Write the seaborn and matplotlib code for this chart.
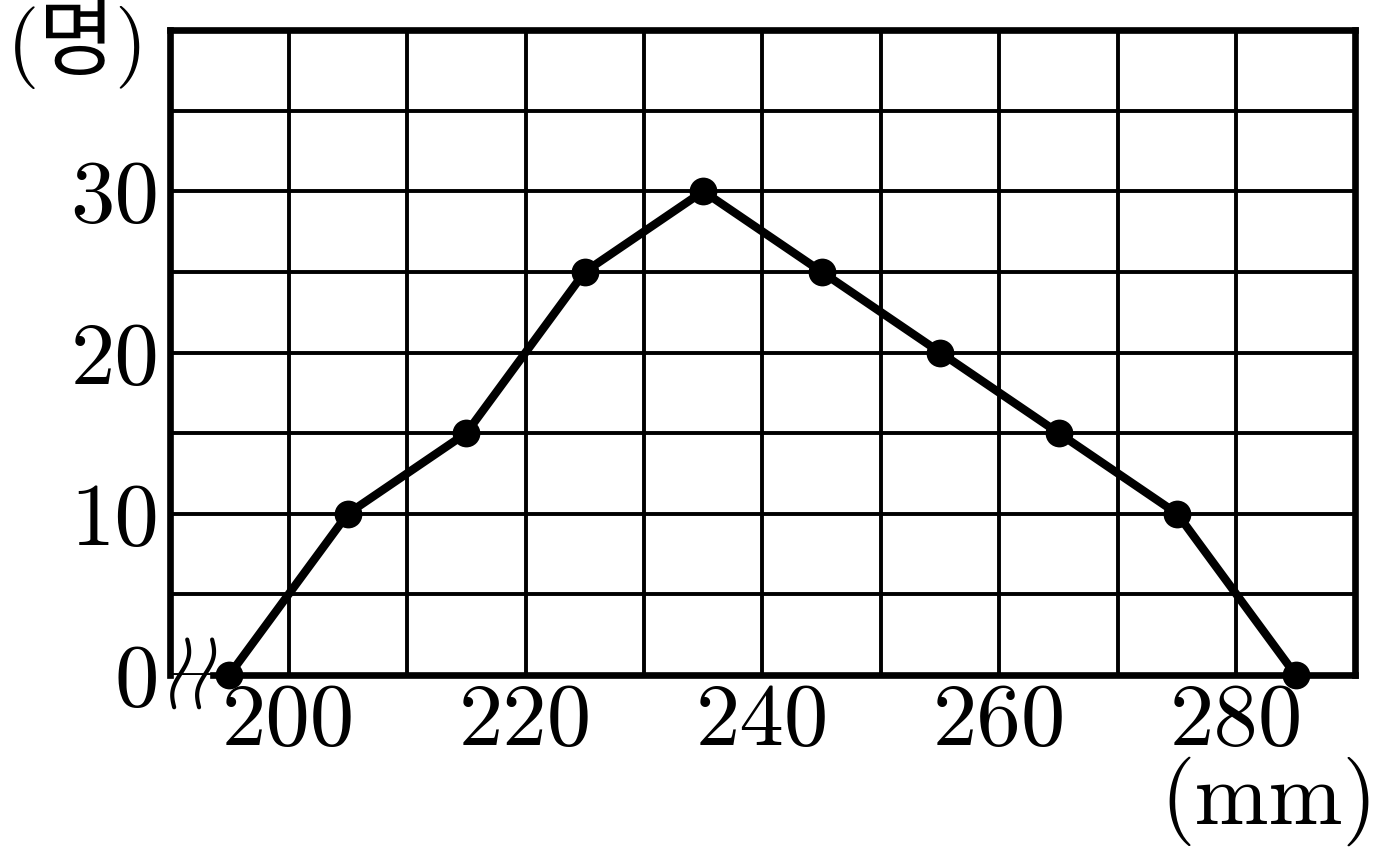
import matplotlib

matplotlib.use("Agg")

import numpy as np
import matplotlib.pyplot as plt
import seaborn as sns

# data
sizes = [195, 205, 215, 225, 235, 245, 255, 265, 275, 285]
counts = [0, 10, 15, 25, 30, 25, 20, 15, 10, 0]

x_ticks = [200, 210, 220, 230, 240, 250, 260, 270, 280]
x_labels = ['200', '', '220', '', '240', '', '260', '', '280']
y_ticks = [0, 5, 10, 15, 20, 25, 30, 35]
y_labels = ['0', '', '10', '', '20', '', '30', '']

sns.set_style("white")
plt.rcParams['font.family'] = ['cmr10', 'Noto Sans CJK KR', 'DejaVu Sans']
plt.rcParams['axes.unicode_minus'] = False
plt.rcParams['text.color'] = 'black'

fig = plt.figure(figsize=(13.88, 8.55), dpi=100)
ax = fig.add_axes([0.1225, 0.2105, 0.8537, 0.7544])

sns.lineplot(x=sizes, y=counts, marker='o', color='black', linewidth=6,
             markersize=20, markeredgewidth=0, clip_on=False, zorder=5, ax=ax)

ax.set_xlim(190, 290)
ax.set_ylim(0, 40)
ax.set_xticks(x_ticks)
ax.set_xticklabels(x_labels)
ax.set_yticks(y_ticks)
ax.set_yticklabels(y_labels)
ax.tick_params(axis='both', length=0, labelsize=64, colors='black')
ax.tick_params(axis='x', pad=6)
ax.tick_params(axis='y', pad=8)
ax.grid(True, color='black', linewidth=2.8)
ax.set_axisbelow(True)

for side in ['left', 'right', 'top', 'bottom']:
    ax.spines[side].set_visible(True)
    ax.spines[side].set_color('black')
    ax.spines[side].set_linewidth(4.8)
ax.spines['bottom'].set_bounds(193.6, 290)

# break marks on the x axis
t = np.linspace(-1, 1, 60)
for x0 in [190.9, 193.0]:
    ax.plot(x0 + 0.4 * np.sin(np.pi * t) + 0.55 * t, t * 2.1 + 0.1, color='black',
            linewidth=3, clip_on=False, zorder=6)

fig.text(0.005, 0.948, '(명)', fontsize=60, ha='left', va='center')
fig.text(0.992, 0.063, '(mm)', fontsize=64, ha='right', va='center')

plt.savefig("out.png", dpi=100)
